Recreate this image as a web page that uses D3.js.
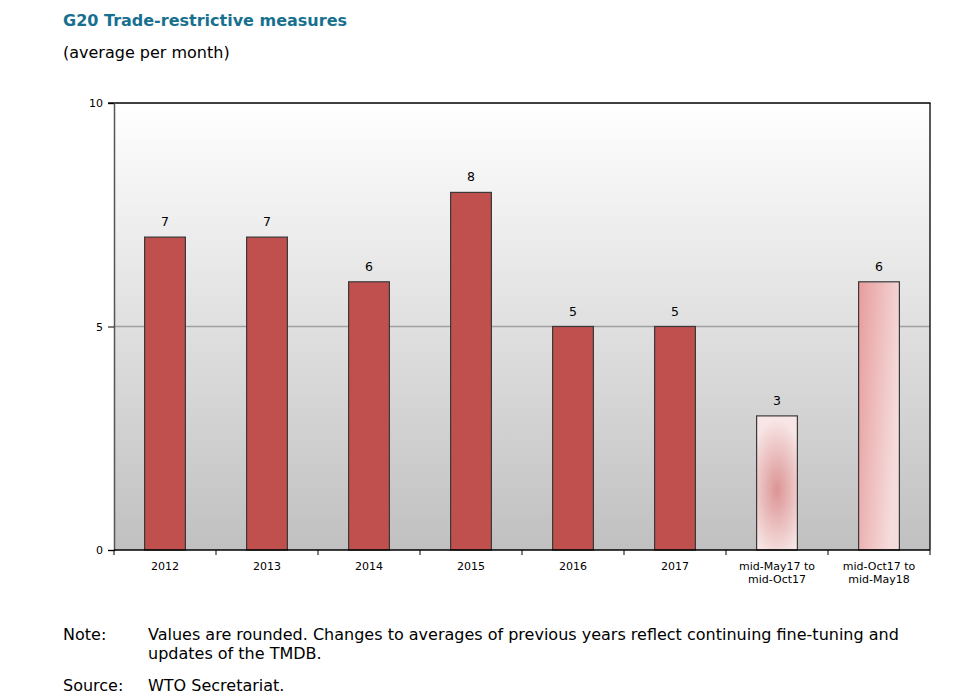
<!DOCTYPE html>
<html><head><meta charset="utf-8">
<script src="https://cdn.jsdelivr.net/npm/d3@7"></script>
<style>body{margin:0;background:#fff}svg{display:block}</style>
</head><body>
<svg id="c" width="970" height="700"></svg>
<script>
const categories = ["2012","2013","2014","2015","2016","2017","mid-May17 to|mid-Oct17","mid-Oct17 to|mid-May18"];
const values = [7,7,6,8,5,5,3,6];
const styles = ["solid","solid","solid","solid","solid","solid","radial","linear"];
const yTicks = [0,5,10];

const svg = d3.select("#c");
const font = "Verdana, 'DejaVu Sans', sans-serif";
const m = {l:114, r:930, t:103, b:550};

const defs = svg.append("defs");
const bg = defs.append("linearGradient").attr("id","bg").attr("x1",0).attr("y1",0).attr("x2",0).attr("y2",1);
bg.append("stop").attr("offset","0%").attr("stop-color","#ffffff");
bg.append("stop").attr("offset","100%").attr("stop-color","#c0c0c0");
const rg = defs.append("radialGradient").attr("id","rad").attr("cx","0.5").attr("cy","0.55").attr("r","0.5")
  .attr("gradientTransform","translate(0.5 0.55) scale(1.5 1.05) translate(-0.5 -0.55)");
rg.append("stop").attr("offset","0%").attr("stop-color","#dc9494");
rg.append("stop").attr("offset","100%").attr("stop-color","#f8e6e6");
const lg = defs.append("linearGradient").attr("id","lin").attr("x1",0).attr("y1",0).attr("x2",1).attr("y2",0.4);
lg.append("stop").attr("offset","0%").attr("stop-color","#e89c9c");
lg.append("stop").attr("offset","100%").attr("stop-color","#f5dcdc");

const x = d3.scaleBand().domain(categories).range([m.l, m.r]).paddingInner(0.6).paddingOuter(0.3);
const xb = d3.scaleBand().domain(categories).range([m.l, m.r]);
const y = d3.scaleLinear().domain([0,10]).range([m.b, m.t]);

svg.append("rect").attr("x",m.l).attr("y",m.t).attr("width",m.r-m.l).attr("height",m.b-m.t).attr("fill","url(#bg)");

// gridline at 5
svg.append("line").attr("x1",m.l).attr("x2",m.r).attr("y1",y(5)).attr("y2",y(5)).attr("stroke","#a0a0a0").attr("stroke-width",1.5);

// bars
svg.selectAll("rect.bar").data(values).enter().append("rect").attr("class","bar")
  .attr("x",(d,i)=>x(categories[i])).attr("width",x.bandwidth())
  .attr("y",d=>y(d)).attr("height",d=>y(0)-y(d))
  .attr("fill",(d,i)=>styles[i]==="solid"?"#c0504d":styles[i]==="radial"?"url(#rad)":"url(#lin)")
  .attr("stroke","#3a3a3a").attr("stroke-width",1.2);

// value labels
svg.selectAll("text.val").data(values).enter().append("text")
  .attr("x",(d,i)=>x(categories[i])+x.bandwidth()/2).attr("y",d=>y(d)-11)
  .attr("text-anchor","middle").attr("font-family",font).attr("font-size",12.5).attr("fill","#000").text(d=>d);

// frame: top and right
svg.append("line").attr("x1",m.l-6).attr("x2",m.r+0.5).attr("y1",m.t).attr("y2",m.t).attr("stroke","#000").attr("stroke-width",1.3);
svg.append("line").attr("x1",m.r).attr("x2",m.r).attr("y1",m.t).attr("y2",m.b).attr("stroke","#000").attr("stroke-width",1.3);

// y axis
const ya = svg.append("g").attr("transform",`translate(${m.l},0)`)
  .call(d3.axisLeft(y).tickValues(yTicks).tickSize(6).tickPadding(5));
ya.select(".domain").attr("stroke","#555").attr("stroke-width",1.5);
ya.selectAll(".tick line").attr("stroke","#000");
ya.selectAll("text").attr("font-family",font).attr("font-size",11).attr("fill","#000");

// x axis
const xa = svg.append("g").attr("transform",`translate(0,${m.b})`);
xa.append("line").attr("x1",m.l).attr("x2",m.r).attr("stroke","#000").attr("stroke-width",1.3);
const bounds = categories.map(c=>xb(c)).concat([m.r]);
xa.selectAll("line.t").data(bounds).enter().append("line")
  .attr("x1",d=>d).attr("x2",d=>d).attr("y1",0).attr("y2",5).attr("stroke","#000");
xa.selectAll("text").data(categories).enter().append("text")
  .attr("x",c=>xb(c)+xb.bandwidth()/2).attr("y",20)
  .attr("text-anchor","middle").attr("font-family",font).attr("font-size",11).attr("fill","#000")
  .each(function(c){
    const parts=c.split("|"); const t=d3.select(this);
    parts.forEach((p,i)=>t.append("tspan").attr("x",xb(c)+xb.bandwidth()/2).attr("dy",i?13:0).text(p));
  });

// titles
svg.append("text").attr("x",63).attr("y",26).attr("font-family",font).attr("font-weight","bold").attr("font-size",16).attr("fill","#17708f").text("G20 Trade-restrictive measures");
svg.append("text").attr("x",63).attr("y",58).attr("font-family",font).attr("font-size",16).attr("fill","#000").text("(average per month)");

// notes
const nf = "'DejaVu Sans', sans-serif";
const notes = [
  {x:63,y:640,t:"Note:"},
  {x:148,y:640,t:"Values are rounded. Changes to averages of previous years reflect continuing fine-tuning and"},
  {x:148,y:659,t:"updates of the TMDB."},
  {x:63,y:691,t:"Source:"},
  {x:148,y:691,t:"WTO Secretariat."}
];
svg.selectAll("text.note").data(notes).enter().append("text")
  .attr("x",d=>d.x).attr("y",d=>d.y).attr("font-family",nf).attr("font-size",16).attr("fill","#000").text(d=>d.t);
</script>
</body></html>
